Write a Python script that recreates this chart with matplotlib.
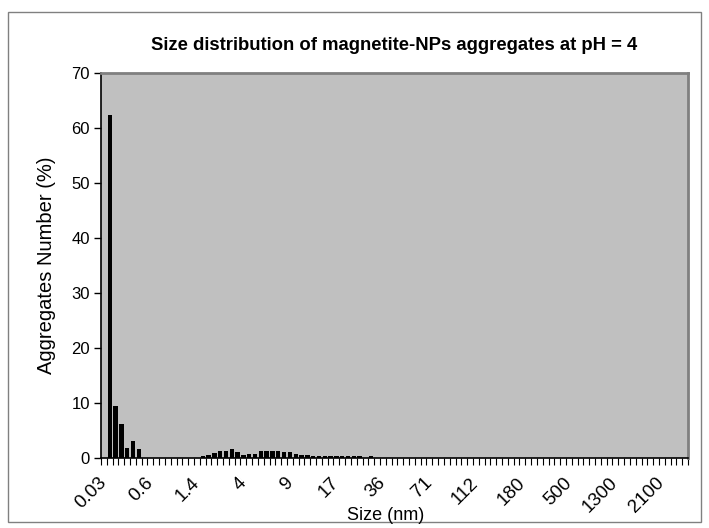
import matplotlib.pyplot as plt
import numpy as np
from matplotlib.patches import Rectangle

plt.rcParams['font.family'] = ['Liberation Sans', 'DejaVu Sans']

# size classes (nm) shown on the category axis, one label every 8 classes
size_labels = ['0.03', '0.6', '1.4', '4', '9', '17', '36', '71',
               '112', '180', '500', '1300', '2100']
label_step = 8

# aggregates number (%) for each of the 101 size classes
counts = [
    0.0, 62.3, 9.5, 6.2, 1.8, 3.1, 1.7, 0.0, 0.0, 0.0,
    0.0, 0.0, 0.0, 0.0, 0.0, 0.0, 0.0, 0.3, 0.6, 0.95,
    1.3, 1.35, 1.65, 1.0, 0.55, 0.7, 0.65, 1.35, 1.3, 1.3,
    1.3, 1.15, 1.1, 0.65, 0.55, 0.5, 0.45, 0.4, 0.4, 0.4,
    0.35, 0.3, 0.3, 0.3, 0.3, 0.0, 0.3, 0.0, 0.0, 0.0,
    0.0, 0.0, 0.0, 0.0, 0.0, 0.0, 0.0, 0.0, 0.0, 0.0,
    0.0, 0.0, 0.0, 0.0, 0.0, 0.0, 0.0, 0.0, 0.0, 0.0,
    0.0, 0.0, 0.0, 0.0, 0.0, 0.0, 0.0, 0.0, 0.0, 0.0,
    0.0, 0.0, 0.0, 0.0, 0.0, 0.0, 0.0, 0.0, 0.0, 0.0,
    0.0, 0.0, 0.0, 0.0, 0.0, 0.0, 0.0, 0.0, 0.0, 0.0,
    0.0,
]

W, H = 709, 528
fig = plt.figure(figsize=(W / 100, H / 100), dpi=100)
ax = fig.add_axes([101 / W, 1 - 458 / H, 587 / W, (458 - 72.7) / H])
ax.set_facecolor('#C0C0C0')

x = np.arange(len(counts))
ax.bar(x, counts, width=0.75, color='black', zorder=3)

ax.set_xlim(-0.5, len(counts) - 0.5)
ax.set_ylim(0, 70)
ax.set_yticks(np.arange(0, 71, 10))
ax.tick_params(axis='y', direction='out', length=5, width=1, labelsize=12, pad=3)

# category boundaries carry the tick marks, labels sit on class centres
ax.set_xticks(np.arange(len(counts) + 1) - 0.5, minor=True)
ax.set_xticks(x[::label_step][:len(size_labels)])
ax.set_xticklabels(size_labels, rotation=45, ha='right', va='center',
                   rotation_mode='anchor')
ax.tick_params(axis='x', which='minor', direction='out', length=5, width=0.8)
ax.tick_params(axis='x', which='major', length=0, labelsize=13.5, pad=16)

for side in ['top', 'right']:
    ax.spines[side].set_color('#808080')
    ax.spines[side].set_linewidth(2)
for side in ['left', 'bottom']:
    ax.spines[side].set_color('black')
    ax.spines[side].set_linewidth(1.2)

fig.text(394.5 / W, 1 - 46 / H,
         'Size distribution of magnetite-NPs aggregates at pH = 4',
         ha='center', va='center', fontsize=13.3, fontweight='bold')
fig.text(47 / W, 1 - 265 / H, 'Aggregates Number (%)', rotation=90,
         ha='center', va='center', fontsize=14.5)
fig.text(386 / W, 1 - 516 / H, 'Size (nm)', ha='center', va='center',
         fontsize=13)

fig.patches.append(Rectangle((8 / W, 1 - 522 / H), 693 / W, 510 / H,
                             transform=fig.transFigure, fill=False,
                             edgecolor='#808080', linewidth=1))

fig.savefig('out.png', dpi=100)
